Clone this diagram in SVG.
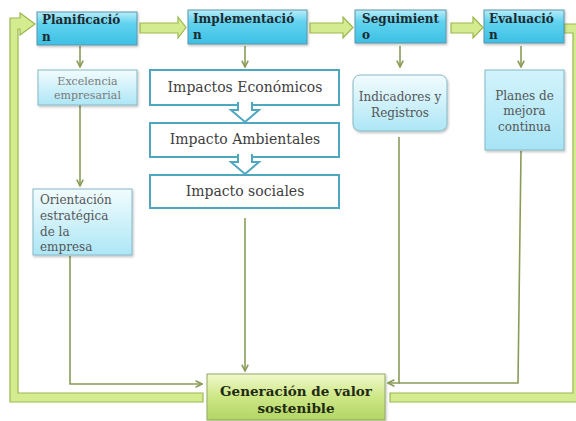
<svg xmlns="http://www.w3.org/2000/svg" width="576" height="421" viewBox="0 0 576 421">
<defs>
<linearGradient id="gTop" x1="0" y1="0" x2="0" y2="1">
<stop offset="0" stop-color="#b8edfa"/><stop offset="0.35" stop-color="#62d3ef"/><stop offset="1" stop-color="#3cc0e4"/>
</linearGradient>
<linearGradient id="gLight" x1="0" y1="0" x2="0" y2="1">
<stop offset="0" stop-color="#f2fcfe"/><stop offset="1" stop-color="#ade6f6"/>
</linearGradient>
<linearGradient id="gPlan" x1="0" y1="0" x2="0" y2="1">
<stop offset="0" stop-color="#d2f3fc"/><stop offset="1" stop-color="#a7e4f5"/>
</linearGradient>
<linearGradient id="gGreen" x1="0" y1="0" x2="0" y2="1">
<stop offset="0" stop-color="#f0f9cc"/><stop offset="0.5" stop-color="#cde786"/><stop offset="1" stop-color="#b2d564"/>
</linearGradient>
<filter id="sh" x="-10%" y="-10%" width="130%" height="130%">
<feDropShadow dx="1" dy="1.5" stdDeviation="1" flood-color="#000" flood-opacity="0.25"/>
</filter>
<marker id="ah" viewBox="0 0 10 10" refX="9" refY="5" markerWidth="8" markerHeight="8" markerUnits="userSpaceOnUse" orient="auto">
<path d="M1,1 L9,5 L1,9" fill="none" stroke="#8a9b57" stroke-width="2"/>
</marker>
<style>
.top{fill:url(#gTop);stroke:#5a96aa;stroke-width:1;filter:url(#sh)}
.light{fill:url(#gLight);stroke:#86b8c7;stroke-width:1;filter:url(#sh)}
.imp{fill:#fff;stroke:#4fa7bf;stroke-width:2}
.blk{fill:#fff;stroke:#4fa7bf;stroke-width:2}
.gen{fill:url(#gGreen);stroke:#92a964;stroke-width:1;filter:url(#sh)}
.thick{fill:#d4ec8f;stroke:#9ab84f;stroke-width:1.2}
.thin{fill:none;stroke:#8a9b57;stroke-width:1.6}
.tt{font-family:"DejaVu Serif","Liberation Serif",serif;font-weight:bold;font-size:12px;fill:#1c2a30}
.ts{font-family:"DejaVu Serif","Liberation Serif",serif;font-size:11px;fill:#7a7a7a}
.tm{font-family:"DejaVu Serif","Liberation Serif",serif;font-size:12px;fill:#555}
.ti{font-family:"DejaVu Serif","Liberation Serif",serif;font-size:14px;fill:#3e3e3e}
.tg{font-family:"DejaVu Serif","Liberation Serif",serif;font-weight:bold;font-size:13.5px;fill:#1f2a12}
</style>
</defs>
<rect width="576" height="421" fill="#fff"/>

<g id="connectors">
<path class="thick" d="M10,402 L10,18 L20,18 L20,13 L35,24 L20,35 L20,29 L18,29 L18,393 L203,393 L203,402 Z"/>
<path class="thick" d="M564,24 L582,24 L582,402 L390,402 L390,393 L573,393 L573,33 L564,33 Z"/>
<path class="thick" d="M140,23 L178,23 L178,17 L186,27.5 L178,38 L178,33 L140,33 Z"/>
<path class="thick" d="M310,23 L343,23 L343,17 L353,27.5 L343,38 L343,33 L310,33 Z"/>
<path class="thick" d="M451,23 L473,23 L473,17 L483,27.5 L473,38 L473,33 L451,33 Z"/>
<path class="thin" d="M80,46 V67" marker-end="url(#ah)"/>
<path class="thin" d="M245,46 V67" marker-end="url(#ah)"/>
<path class="thin" d="M400,46 V67" marker-end="url(#ah)"/>
<path class="thin" d="M521,46 V67" marker-end="url(#ah)"/>
<path class="thin" d="M80,105 V186" marker-end="url(#ah)"/>
<path class="thin" d="M70,256 V384 H202" marker-end="url(#ah)"/>
<path class="thin" d="M245,218 V371" marker-end="url(#ah)"/>
<path class="thin" d="M399,137 V383 H388" marker-end="url(#ah)"/>
<path class="thin" d="M521,151 L518,383 H399"/>
</g>

<g id="planificacion">
<rect class="top" x="37" y="12" width="100" height="33"/>
<text class="tt" x="42" y="24">Planificació</text>
<text class="tt" x="42" y="41">n</text>
</g>
<g id="implementacion">
<rect class="top" x="188" y="10" width="119" height="34"/>
<text class="tt" x="193" y="23">Implementació</text>
<text class="tt" x="193" y="39">n</text>
</g>
<g id="seguimiento">
<rect class="top" x="355" y="10" width="91" height="33"/>
<text class="tt" x="362" y="23">Seguimient</text>
<text class="tt" x="362" y="39">o</text>
</g>
<g id="evaluacion">
<rect class="top" x="484" y="10" width="80" height="33"/>
<text class="tt" x="489" y="23">Evaluació</text>
<text class="tt" x="489" y="39">n</text>
</g>

<g id="excelencia">
<rect class="light" x="38" y="70" width="99" height="35"/>
<text class="ts" x="87.5" y="85" text-anchor="middle">Excelencia</text>
<text class="ts" x="87.5" y="99" text-anchor="middle">empresarial</text>
</g>
<g id="orientacion">
<rect class="light" x="33" y="189" width="99" height="66"/>
<text class="tm" x="40" y="204">Orientación</text>
<text class="tm" x="40" y="220">estratégica</text>
<text class="tm" x="40" y="236">de la</text>
<text class="tm" x="40" y="251">empresa</text>
</g>

<g id="impactos-economicos">
<rect class="imp" x="150" y="70" width="189" height="35"/>
<text class="ti" x="245" y="92" text-anchor="middle">Impactos Económicos</text>
</g>
<g id="impacto-ambientales">
<rect class="imp" x="150" y="123" width="189" height="34"/>
<text class="ti" x="245" y="144" text-anchor="middle">Impacto Ambientales</text>
</g>
<g id="impacto-sociales">
<rect class="imp" x="150" y="175" width="189" height="33"/>
<text class="ti" x="245" y="196" text-anchor="middle">Impacto sociales</text>
</g>
<g id="block-arrows">
<path class="blk" d="M238,102 V110 H231 L245,122 L259,110 H252 V102"/>
<path class="blk" d="M238,154 V162 H231 L245,174 L259,162 H252 V154"/>
</g>

<g id="indicadores">
<rect class="light" x="353" y="75" width="94" height="56" rx="7"/>
<text class="tm" x="400" y="101" text-anchor="middle" font-size="12.5">Indicadores y</text>
<text class="tm" x="400" y="117" text-anchor="middle" font-size="12.5">Registros</text>
</g>
<g id="planes">
<rect class="light" x="485" y="70" width="79" height="80" style="fill:url(#gPlan)"/>
<text class="tm" x="524.5" y="100" text-anchor="middle">Planes de</text>
<text class="tm" x="524.5" y="115" text-anchor="middle">mejora</text>
<text class="tm" x="524.5" y="131" text-anchor="middle">continua</text>
</g>

<g id="generacion">
<rect class="gen" x="207" y="374" width="178" height="46"/>
<text class="tg" x="296" y="396" text-anchor="middle">Generación de valor</text>
<text class="tg" x="296" y="413" text-anchor="middle">sostenible</text>
</g>
</svg>
